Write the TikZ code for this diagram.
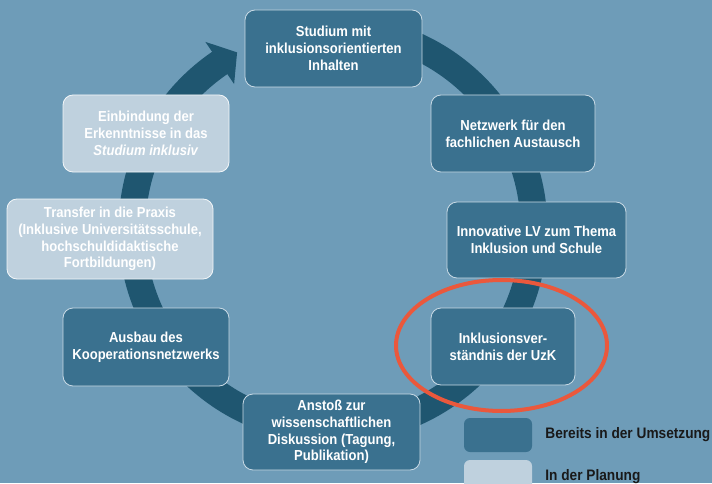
\documentclass[tikz,border=0pt]{standalone}
\usepackage{fontspec}
\setmainfont[FakeStretch=0.9]{Liberation Sans}
\usetikzlibrary{calc,positioning}
\definecolor{bgblue}{HTML}{6E9CB8}
\definecolor{darkbox}{HTML}{3A718F}
\definecolor{lightbox}{HTML}{BFD1DE}
\definecolor{ringblue}{HTML}{1F5670}
\definecolor{boxline}{HTML}{C9DAE5}
\definecolor{markred}{HTML}{EA583C}

\begin{document}
\begin{tikzpicture}[x=1pt,y=1pt]
	\tikzstyle{done}=[rectangle,rounded corners=10pt,draw=boxline,line width=.8pt,fill=darkbox,text=white,align=center,inner sep=0pt,minimum height=77pt,font=\fontsize{14.5}{16.7}\selectfont\bfseries]
	\tikzstyle{plan}=[done,fill=lightbox,draw=white!80!lightbox]
	\tikzstyle{legbox}=[rectangle,rounded corners=6pt,minimum width=68pt,minimum height=34pt,inner sep=0pt]
	\tikzstyle{legtext}=[inner sep=0pt,font=\fontsize{15.2}{17}\selectfont\bfseries,text=black!90]
	\useasboundingbox (0,0) rectangle (712,483);
	\fill[bgblue] (0,0) rectangle (712,483);
	\clip (0,0) rectangle (712,483);
	\coordinate (ctr) at (333,254);
	\draw[ringblue,line width=27pt] ($(ctr)+(80:201)$) arc[start angle=80,end angle=-236,radius=201pt];
	\fill[ringblue] ($(ctr)+(124.3:226.5)$) -- ($(ctr)+(118.5:201)$) -- ($(ctr)+(124.3:175.5)$) -- cycle;
	\node[done,minimum width=177pt] (studium) at (333.5,434.5) {Studium mit\\inklusionsorientierten\\Inhalten};
	\node[done,minimum width=164pt] (netzwerk) at (513,349.5) {Netzwerk für den\\fachlichen Austausch};
	\node[done,minimum width=179pt,minimum height=76pt] (innovativ) at (536.5,243) {Innovative LV zum Thema\\Inklusion und Schule};
	\node[done,minimum width=144pt] (verstaendnis) at (503,136.5) {Inklusionsver-\\ständnis der UzK};
	\node[done,minimum width=177pt,minimum height=76pt] (anstoss) at (331.5,51) {Anstoß zur\\wissenschaftlichen\\Diskussion (Tagung,\\Publikation)};
	\node[done,minimum width=166pt,minimum height=78pt] (ausbau) at (146,136) {Ausbau des\\Kooperationsnetzwerks};
	\node[plan,minimum width=206pt,minimum height=80pt] (transfer) at (110,244) {Transfer in die Praxis\\(Inklusive Universitätsschule,\\hochschuldidaktische\\Fortbildungen)};
	\node[plan,minimum width=166pt] (einbindung) at (146,349.5) {Einbindung der\\Erkenntnisse in das\\\textit{Studium inklusiv}};
	\node[legbox,fill=darkbox] (legdone) at (498,48) {};
	\node[legbox,fill=lightbox] (legplan) at (498,6) {};
	\node[legtext,right=13pt of legdone] (legdonetxt) {Bereits in der Umsetzung};
	\node[legtext,right=13pt of legplan] (legplantxt) {In der Planung};
	\draw[markred,line width=4pt] ([xshift=-1.5pt,yshift=1pt]verstaendnis.center) ellipse[x radius=105.5pt,y radius=65.5pt];
\end{tikzpicture}
\end{document}
